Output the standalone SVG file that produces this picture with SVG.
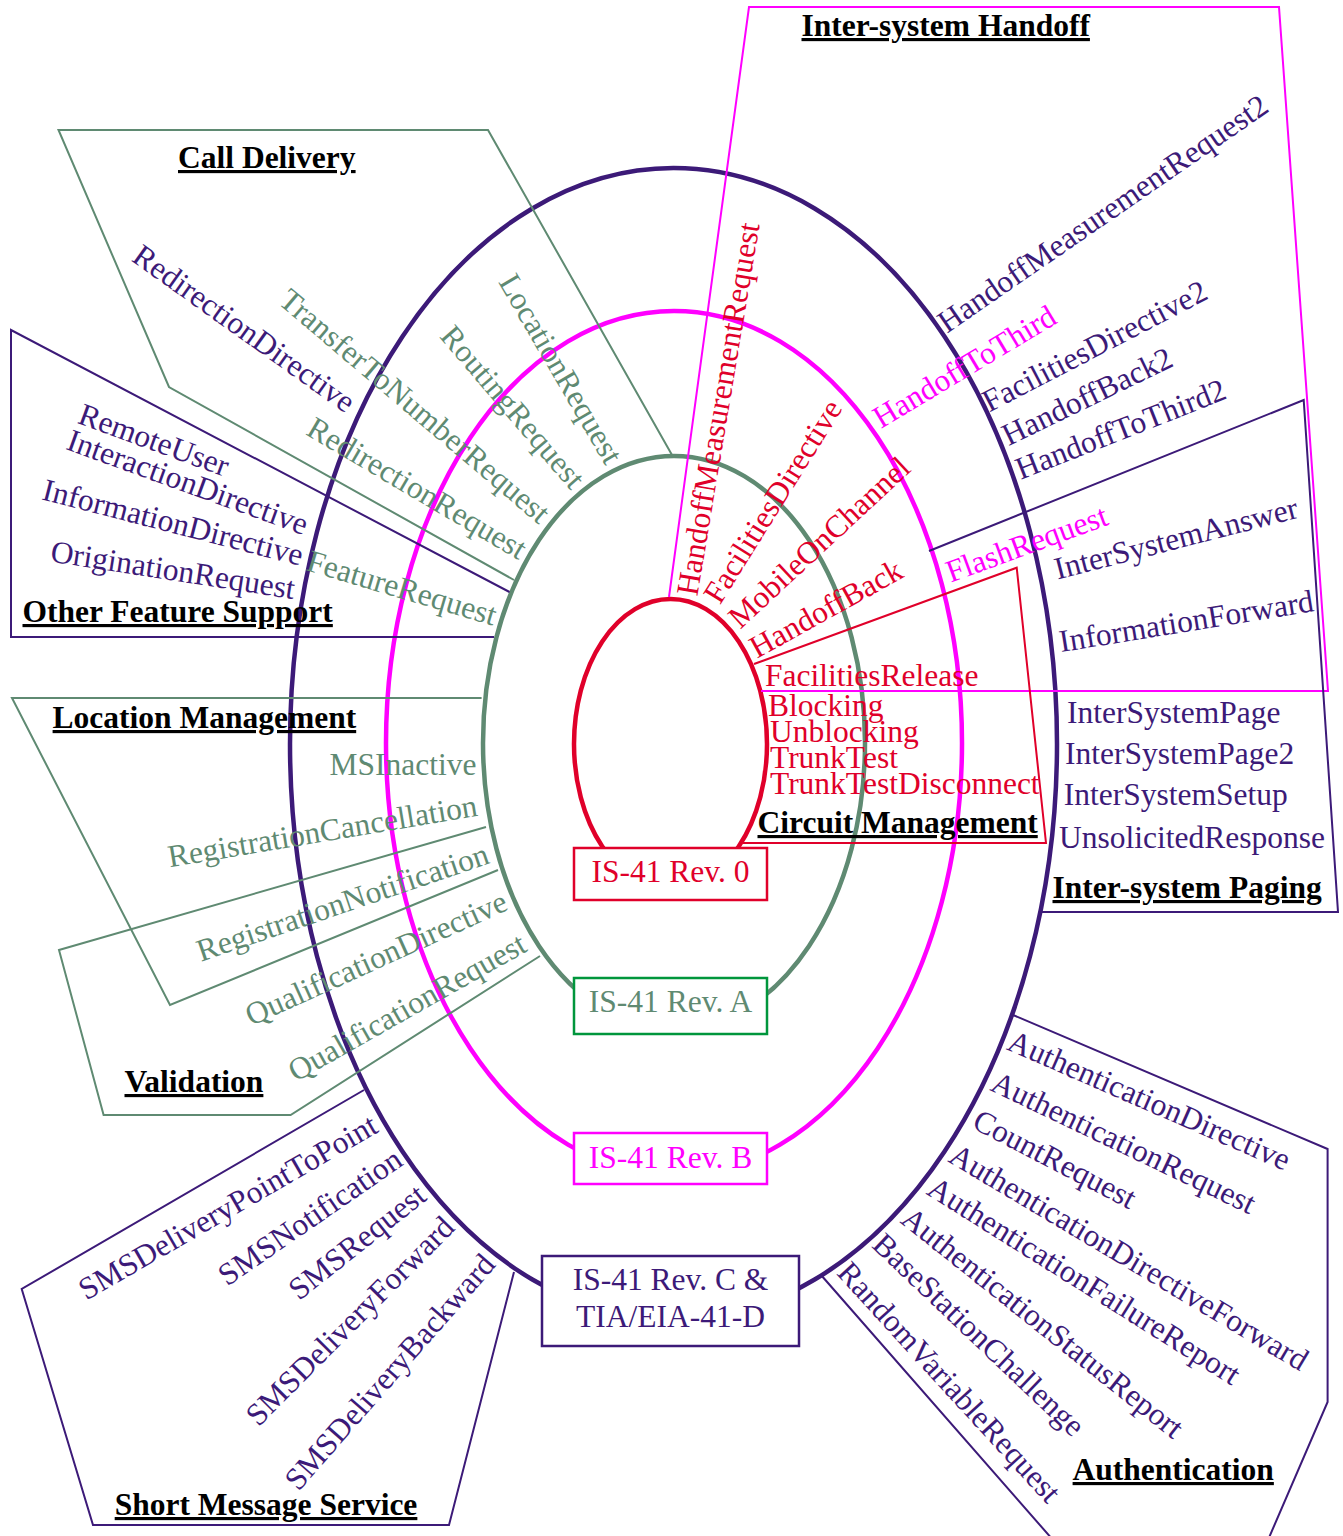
<svg xmlns="http://www.w3.org/2000/svg" width="1343" height="1536" viewBox="0 0 1343 1536">
<style>
text{font-family:"Liberation Serif","Times New Roman",serif;font-size:31.5px}
.r{dominant-baseline:central}
.ttl{font-weight:bold;text-decoration:underline;fill:#000}
.pu{fill:#3c1a78}.gr{fill:#5f8a72}.rd{fill:#e0002a}.mg{fill:#ff00ff}
.ring{fill:none;stroke-width:4.5}
.box{fill:#fff;stroke-width:2.5}
.area{fill:none;stroke-width:2}
.spu{stroke:#3c1a78}.sgr{stroke:#5f8a72}.srd{stroke:#e0002a}.smg{stroke:#ff00ff}.sgn{stroke:#00963c}
.c{text-anchor:middle}
</style>
<rect width="1343" height="1536" fill="#fff"/>

<g id="rev-c">
<ellipse class="ring spu" cx="673.5" cy="744" rx="383.5" ry="576"/>
<rect class="box spu" x="542" y="1256" width="257" height="90"/>
<text class="pu c" x="670.5" y="1290">IS-41 Rev. C &amp;</text>
<text class="pu c" x="670.5" y="1327">TIA/EIA-41-D</text>
</g>
<g id="rev-b">
<ellipse class="ring smg" cx="674" cy="743" rx="288" ry="432"/>
<rect class="box smg" x="574" y="1133" width="193" height="51"/>
<text class="mg c" x="670.5" y="1168">IS-41 Rev. B</text>
</g>
<g id="rev-a">
<ellipse class="ring sgr" cx="674" cy="743" rx="191" ry="287"/>
<rect class="box sgn" x="574" y="978" width="193" height="56"/>
<text class="gr c" x="670.5" y="1012">IS-41 Rev. A</text>
</g>
<g id="rev-0">
<ellipse class="ring srd" cx="670.5" cy="744" rx="96.5" ry="145"/>
<rect class="box srd" x="574" y="848" width="193" height="52"/>
<text class="rd c" x="670.5" y="882">IS-41 Rev. 0</text>
</g>

<g id="call-delivery">
<polyline class="area sgr" points="672,455 488,130 58.5,130 169,387 514,580"/>
<text class="ttl" x="178" y="168">Call Delivery</text>
<text class="pu r" transform="translate(136.6,251.7) rotate(35.5)">RedirectionDirective</text>
<text class="gr r" transform="translate(284,295) rotate(40.3)">TransferToNumberRequest</text>
<text class="gr r" transform="translate(310,425) rotate(30.5)">RedirectionRequest</text>
<text class="gr r" transform="translate(446.7,330) rotate(49.4)">RoutingRequest</text>
<text class="gr r" transform="translate(507,276.7) rotate(59.7)">LocationRequest</text>
</g>

<g id="other-feature-support">
<polyline class="area spu" points="509.5,592 11,330 11,637 494,637"/>
<text class="ttl" x="22.5" y="622">Other Feature Support</text>
<text class="pu r" transform="translate(80,413) rotate(20)">RemoteUser</text>
<text class="pu r" transform="translate(68.5,439) rotate(19.9)">InteractionDirective</text>
<text class="pu r" transform="translate(43.4,489) rotate(14.4)">InformationDirective</text>
<text class="pu r" transform="translate(51,551) rotate(8.8)">OriginationRequest</text>
<text class="gr r" transform="translate(308,560) rotate(16.5)">FeatureRequest</text>
</g>

<g id="location-management">
<polyline class="area sgr" points="481.6,698 12,698 170,1005 498,870"/>
<text class="ttl" x="52.6" y="728">Location Management</text>
<text class="gr" x="476.5" y="775" text-anchor="end">MSInactive</text>
<text class="gr r" transform="translate(168,857) rotate(-9.5)">RegistrationCancellation</text>
<text class="gr r" transform="translate(197.7,951.7) rotate(-18.8)">RegistrationNotification</text>
</g>

<g id="validation">
<polyline class="area sgr" points="486,827 59,950 103.6,1115 290.6,1115 540,956"/>
<text class="ttl" x="124.5" y="1092">Validation</text>
<text class="gr r" transform="translate(247,1016.7) rotate(-24.4)">QualificationDirective</text>
<text class="gr r" transform="translate(290.6,1073) rotate(-29.5)">QualificationRequest</text>
</g>

<g id="short-message-service">
<polyline class="area spu" points="364,1090 21.7,1289 93,1525 449,1525 514,1272"/>
<text class="ttl" x="114.7" y="1515">Short Message Service</text>
<text class="pu r" transform="translate(81,1291.7) rotate(-30)">SMSDeliveryPointToPoint</text>
<text class="pu r" transform="translate(221.4,1278) rotate(-34.6)">SMSNotification</text>
<text class="pu r" transform="translate(292.6,1293) rotate(-38.4)">SMSRequest</text>
<text class="pu r" transform="translate(251,1420) rotate(-45.1)">SMSDeliveryForward</text>
<text class="pu r" transform="translate(290.6,1485) rotate(-48.8)">SMSDeliveryBackward</text>
</g>

<g id="authentication">
<path class="area spu" d="M1013,1015 L1327.6,1149 L1327.6,1402 L1268,1540 M821,1275 L1053,1540"/>
<text class="ttl" x="1072.6" y="1480">Authentication</text>
<text class="pu r" transform="translate(1009.8,1039.3) rotate(23.6)">AuthenticationDirective</text>
<text class="pu r" transform="translate(993.6,1080.3) rotate(25.6)">AuthenticationRequest</text>
<text class="pu r" transform="translate(975.7,1118) rotate(27.4)">CountRequest</text>
<text class="pu r" transform="translate(952.4,1152) rotate(30.8)">AuthenticationDirectiveForward</text>
<text class="pu r" transform="translate(930.8,1184.6) rotate(32.1)">AuthenticationFailureReport</text>
<text class="pu r" transform="translate(905.7,1213.7) rotate(38.5)">AuthenticationStatusReport</text>
<text class="pu r" transform="translate(878,1239) rotate(43.5)">BaseStationChallenge</text>
<text class="pu r" transform="translate(843.5,1266.7) rotate(47.5)">RandomVariableRequest</text>
</g>

<g id="inter-system-handoff">
<polyline class="area smg" points="669,597 749,7 1279,7 1328,691 761,691"/>
<text class="ttl" x="801.5" y="36">Inter-system Handoff</text>
<text class="rd r" transform="translate(687,595) rotate(-80.5)">HandoffMeasurementRequest</text>
<text class="rd r" transform="translate(711,600) rotate(-58)">FacilitiesDirective</text>
<text class="rd r" transform="translate(733,622) rotate(-42.8)">MobileOnChannel</text>
<text class="rd r" transform="translate(752,649.5) rotate(-29)">HandoffBack</text>
<text class="mg r" transform="translate(875.6,420) rotate(-31)">HandoffToThird</text>
<text class="pu r" transform="translate(941,325) rotate(-34.6)">HandoffMeasurementRequest2</text>
<text class="pu r" transform="translate(984.5,403.3) rotate(-27.5)">FacilitiesDirective2</text>
<text class="pu r" transform="translate(1004,436.7) rotate(-25.9)">HandoffBack2</text>
<text class="pu r" transform="translate(1017,470) rotate(-21.5)">HandoffToThird2</text>
</g>

<g id="inter-system-paging">
<polyline class="area spu" points="929,551 1303.7,400 1338,912 1041,912"/>
<text class="ttl" x="1052.5" y="898">Inter-system Paging</text>
<text class="mg r" transform="translate(947,573) rotate(-20.2)">FlashRequest</text>
<text class="pu r" transform="translate(1054.8,569.4) rotate(-14.4)">InterSystemAnswer</text>
<text class="pu r" transform="translate(1059.3,641.7) rotate(-9.2)">InformationForward</text>
<text class="pu" x="1067" y="723">InterSystemPage</text>
<text class="pu" x="1065" y="764">InterSystemPage2</text>
<text class="pu" x="1063.7" y="805">InterSystemSetup</text>
<text class="pu" x="1059" y="848">UnsolicitedResponse</text>
</g>

<g id="circuit-management">
<polyline class="area srd" points="754,664 1016.7,567.7 1046,843 743,843"/>
<text class="ttl" x="757.5" y="833">Circuit Management</text>
<text class="rd" x="765" y="686">FacilitiesRelease</text>
<text class="rd" x="768" y="716">Blocking</text>
<text class="rd" x="770" y="742">Unblocking</text>
<text class="rd" x="770" y="768">TrunkTest</text>
<text class="rd" x="770" y="793.5">TrunkTestDisconnect</text>
</g>

<g id="connectors"></g>
</svg>
